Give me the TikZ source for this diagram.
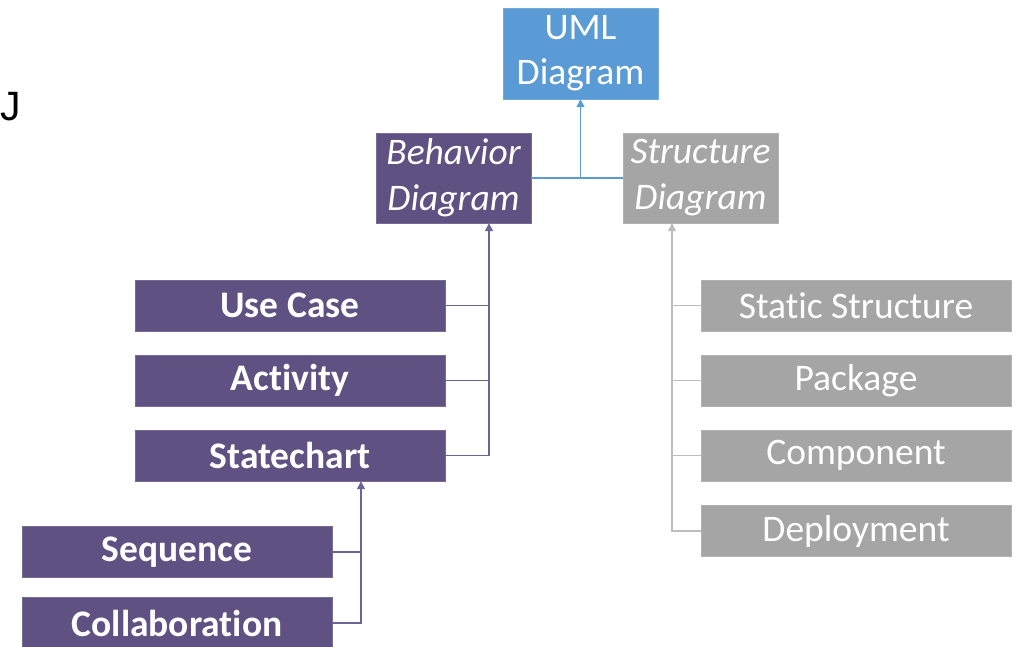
\documentclass[tikz,border=0pt]{standalone}
\usepackage{fontspec}
\setmainfont[Ligatures={TeX,NoCommon}]{Carlito}
\newfontfamily\jfont{Liberation Sans}
\usetikzlibrary{arrows.meta}
\definecolor{umlblue}{HTML}{5B9BD5}
\definecolor{behpurple}{HTML}{5F5283}
\definecolor{behline}{HTML}{6E6396}
\definecolor{strgray}{HTML}{A5A5A5}
\definecolor{strline}{HTML}{BDBDBD}
\tikzset{
  box/.style={rectangle, inner sep=0pt, text=white, font=\fontsize{37.5}{45}\selectfont},
  rootbox/.style={box, fill=umlblue, draw=umlblue!85!white, minimum width=155pt, minimum height=91pt, align=center},
  catbox/.style={box, minimum width=155pt, minimum height=90pt, align=center, font=\fontsize{37.5}{46}\selectfont\itshape},
  leafbox/.style={box, minimum width=310pt, minimum height=51pt},
  behbox/.style={leafbox, fill=behpurple, draw=behpurple!85!white, font=\fontsize{37.5}{45}\selectfont\bfseries},
  strbox/.style={leafbox, fill=strgray, draw=strgray!85!white},
  link/.style={line width=1.4pt},
  tip/.style={-{Triangle[width=8pt,length=8pt]}},
}
\begin{document}
\begin{tikzpicture}[x=1pt,y=-1pt]
\useasboundingbox (0,0) rectangle (1020,646);
\clip (0,0) rectangle (1020,646);

% stray letter at the left edge
\node[anchor=base west, inner sep=0pt, font=\jfont\fontsize{41}{41}\selectfont] (jletter) at (0,120) {J};

% top level
\node[rootbox] (uml) at (580.5,53.5) {UML\\Diagram};
\node[catbox, fill=behpurple, draw=behpurple!85!white] (beh) at (453.5,178) {Behavior\\Diagram};
\node[catbox, fill=strgray, draw=strgray!85!white] (str) at (700.5,178) {Structure\\Diagram};

% behaviour diagrams
\node[behbox] (usecase) at (290,305.5) {Use Case};
\node[behbox] (activity) at (290,380.5) {Activity};
\node[behbox] (statechart) at (290,455.5) {Statechart};
\node[behbox] (sequence) at (177,552) {Sequence};
\node[behbox] (collab) at (177,623) {Collaboration};

% structure diagrams
\node[strbox] (static) at (856,305.5) {Static Structure};
\node[strbox] (package) at (856,380.5) {Package};
\node[strbox] (component) at (856,455.5) {Component};
\node[strbox] (deploy) at (856,531) {Deployment};

% attachment points of the trunks
\coordinate (umlin) at (uml.south);
\coordinate (behin) at ([xshift=35.5pt]beh.south);
\coordinate (strin) at ([xshift=-28.5pt]str.south);
\coordinate (stcin) at ([xshift=71pt]statechart.south);

% generalisation connectors
\draw[link, umlblue] (beh.east) -- (str.west);
\draw[link, umlblue, tip] (beh.east -| umlin) -- (umlin);

\draw[link, behline, tip] (statechart.east) -| (behin);
\draw[link, behline] (usecase.east) -- (usecase.east -| behin);
\draw[link, behline] (activity.east) -- (activity.east -| behin);

\draw[link, behline, tip] (collab.east) -| (stcin);
\draw[link, behline] (sequence.east) -- (sequence.east -| stcin);

\draw[link, strline, tip] (deploy.west) -| (strin);
\draw[link, strline] (static.west) -- (static.west -| strin);
\draw[link, strline] (package.west) -- (package.west -| strin);
\draw[link, strline] (component.west) -- (component.west -| strin);
\end{tikzpicture}
\end{document}
